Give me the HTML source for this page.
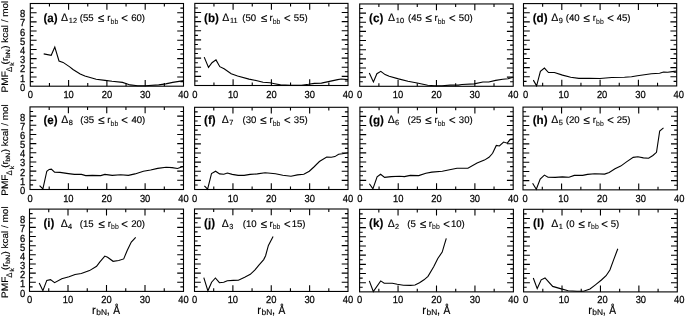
<!DOCTYPE html><html><head><meta charset="utf-8"><style>html,body{margin:0;padding:0;background:#fff;width:685px;height:317px;overflow:hidden}svg{display:block;will-change:transform}text{font-family:"Liberation Sans", sans-serif;text-rendering:geometricPrecision;stroke:#000;stroke-width:0.15px}</style></head><body>
<svg xmlns="http://www.w3.org/2000/svg" width="685" height="317" viewBox="0 0 685 317">
<rect width="685" height="317" fill="#fff"/>
<path d="M49.45 86.2V83.1M49.45 3.5V6.6M68.6 86.2V79.9M68.6 3.5V9.8M87.75 86.2V83.1M87.75 3.5V6.6M106.9 86.2V79.9M106.9 3.5V9.8M126.05 86.2V83.1M126.05 3.5V6.6M145.2 86.2V79.9M145.2 3.5V9.8M164.35 86.2V83.1M164.35 3.5V6.6M30.3 81.61H33.4M183.5 81.61H180.4M30.3 77.01H36.6M183.5 77.01H177.2M30.3 72.42H33.4M183.5 72.42H180.4M30.3 67.82H36.6M183.5 67.82H177.2M30.3 63.23H33.4M183.5 63.23H180.4M30.3 58.63H36.6M183.5 58.63H177.2M30.3 54.04H33.4M183.5 54.04H180.4M30.3 49.44H36.6M183.5 49.44H177.2M30.3 44.85H33.4M183.5 44.85H180.4M30.3 40.26H36.6M183.5 40.26H177.2M30.3 35.66H33.4M183.5 35.66H180.4M30.3 31.07H36.6M183.5 31.07H177.2M30.3 26.47H33.4M183.5 26.47H180.4M30.3 21.88H36.6M183.5 21.88H177.2M30.3 17.28H33.4M183.5 17.28H180.4M30.3 12.69H36.6M183.5 12.69H177.2M30.3 8.09H33.4M183.5 8.09H180.4" stroke="#000" stroke-width="1.1" fill="none"/>
<rect x="30.3" y="3.5" width="153.2" height="82.7" stroke="#000" stroke-width="1.1" fill="none"/>
<polyline points="43.7,53.9 51.2,55.3 54.8,47.1 59,61 63.1,62.4 69.7,66.9 73,69.5 80.2,73.9 84.9,76 96.2,79.2 105,80.4 112,81.3 122.5,82.4 126.6,83.7 130.1,84.9 137.7,85.7 145.3,85.7 158.7,84.9 165.7,83.9 172.7,82.4 183.8,80.6" stroke="#000" stroke-width="1.1" fill="none" stroke-linejoin="miter"/>
<text transform="translate(30.3 98.4) scale(0.91 1)" font-size="10.3" text-anchor="middle" style="stroke-width:0.25px">0</text>
<text transform="translate(68.6 98.4) scale(0.91 1)" font-size="10.3" text-anchor="middle" style="stroke-width:0.25px">10</text>
<text transform="translate(106.9 98.4) scale(0.91 1)" font-size="10.3" text-anchor="middle" style="stroke-width:0.25px">20</text>
<text transform="translate(145.2 98.4) scale(0.91 1)" font-size="10.3" text-anchor="middle" style="stroke-width:0.25px">30</text>
<text transform="translate(183.5 98.4) scale(0.91 1)" font-size="10.3" text-anchor="middle" style="stroke-width:0.25px">40</text>
<text transform="translate(25.3 90.7) scale(0.91 1)" font-size="10.3" text-anchor="end" style="stroke-width:0.25px">0</text>
<text transform="translate(25.3 81.51) scale(0.91 1)" font-size="10.3" text-anchor="end" style="stroke-width:0.25px">1</text>
<text transform="translate(25.3 72.32) scale(0.91 1)" font-size="10.3" text-anchor="end" style="stroke-width:0.25px">2</text>
<text transform="translate(25.3 63.13) scale(0.91 1)" font-size="10.3" text-anchor="end" style="stroke-width:0.25px">3</text>
<text transform="translate(25.3 53.94) scale(0.91 1)" font-size="10.3" text-anchor="end" style="stroke-width:0.25px">4</text>
<text transform="translate(25.3 44.76) scale(0.91 1)" font-size="10.3" text-anchor="end" style="stroke-width:0.25px">5</text>
<text transform="translate(25.3 35.57) scale(0.91 1)" font-size="10.3" text-anchor="end" style="stroke-width:0.25px">6</text>
<text transform="translate(25.3 26.38) scale(0.91 1)" font-size="10.3" text-anchor="end" style="stroke-width:0.25px">7</text>
<text transform="translate(25.3 17.19) scale(0.91 1)" font-size="10.3" text-anchor="end" style="stroke-width:0.25px">8</text>
<path d="M213.95 85.5V82.4M213.95 3.4V6.5M233.1 85.5V79.2M233.1 3.4V9.7M252.25 85.5V82.4M252.25 3.4V6.5M271.4 85.5V79.2M271.4 3.4V9.7M290.55 85.5V82.4M290.55 3.4V6.5M309.7 85.5V79.2M309.7 3.4V9.7M328.85 85.5V82.4M328.85 3.4V6.5M194.8 80.94H197.9M348 80.94H344.9M194.8 76.38H201.1M348 76.38H341.7M194.8 71.82H197.9M348 71.82H344.9M194.8 67.26H201.1M348 67.26H341.7M194.8 62.69H197.9M348 62.69H344.9M194.8 58.13H201.1M348 58.13H341.7M194.8 53.57H197.9M348 53.57H344.9M194.8 49.01H201.1M348 49.01H341.7M194.8 44.45H197.9M348 44.45H344.9M194.8 39.89H201.1M348 39.89H341.7M194.8 35.33H197.9M348 35.33H344.9M194.8 30.77H201.1M348 30.77H341.7M194.8 26.21H197.9M348 26.21H344.9M194.8 21.64H201.1M348 21.64H341.7M194.8 17.08H197.9M348 17.08H344.9M194.8 12.52H201.1M348 12.52H341.7M194.8 7.96H197.9M348 7.96H344.9" stroke="#000" stroke-width="1.1" fill="none"/>
<rect x="194.8" y="3.4" width="153.2" height="82.1" stroke="#000" stroke-width="1.1" fill="none"/>
<polyline points="204.2,57.1 208.5,67.4 212,62.7 216,59.9 219.8,66.7 224.1,68.7 231.2,73.7 237.6,76 249,79.1 256,80.5 263.1,82.2 270,82.8 274.7,83.7 280.5,84.9 289.9,85.2 301.5,85.2 308.5,84.3 314.4,83.4 321.4,83.1 328.4,81.6 337.7,79.6 341.2,79 348,79.6" stroke="#000" stroke-width="1.1" fill="none" stroke-linejoin="miter"/>
<text transform="translate(194.8 98.4) scale(0.91 1)" font-size="10.3" text-anchor="middle" style="stroke-width:0.25px">0</text>
<text transform="translate(233.1 98.4) scale(0.91 1)" font-size="10.3" text-anchor="middle" style="stroke-width:0.25px">10</text>
<text transform="translate(271.4 98.4) scale(0.91 1)" font-size="10.3" text-anchor="middle" style="stroke-width:0.25px">20</text>
<text transform="translate(309.7 98.4) scale(0.91 1)" font-size="10.3" text-anchor="middle" style="stroke-width:0.25px">30</text>
<text transform="translate(348 98.4) scale(0.91 1)" font-size="10.3" text-anchor="middle" style="stroke-width:0.25px">40</text>
<path d="M378.89 86.3V83.2M378.89 3.95V7.05M398.07 86.3V80M398.07 3.95V10.25M417.26 86.3V83.2M417.26 3.95V7.05M436.45 86.3V80M436.45 3.95V10.25M455.64 86.3V83.2M455.64 3.95V7.05M474.83 86.3V80M474.83 3.95V10.25M494.01 86.3V83.2M494.01 3.95V7.05M359.7 81.72H362.8M513.2 81.72H510.1M359.7 77.15H366M513.2 77.15H506.9M359.7 72.58H362.8M513.2 72.58H510.1M359.7 68H366M513.2 68H506.9M359.7 63.42H362.8M513.2 63.42H510.1M359.7 58.85H366M513.2 58.85H506.9M359.7 54.27H362.8M513.2 54.27H510.1M359.7 49.7H366M513.2 49.7H506.9M359.7 45.12H362.8M513.2 45.12H510.1M359.7 40.55H366M513.2 40.55H506.9M359.7 35.98H362.8M513.2 35.98H510.1M359.7 31.4H366M513.2 31.4H506.9M359.7 26.83H362.8M513.2 26.83H510.1M359.7 22.25H366M513.2 22.25H506.9M359.7 17.67H362.8M513.2 17.67H510.1M359.7 13.1H366M513.2 13.1H506.9M359.7 8.53H362.8M513.2 8.53H510.1" stroke="#000" stroke-width="1.1" fill="none"/>
<rect x="359.7" y="3.95" width="153.5" height="82.35" stroke="#000" stroke-width="1.1" fill="none"/>
<polyline points="369.3,73.1 373.4,81.9 376.9,73.7 380.8,71.4 385.1,74.6 389.2,76.3 398.5,78.9 407.9,81.3 417.2,83 427.7,85.2 434.7,85.8 442,85.8 450.2,85.1 458.4,85.1 461.9,84.5 474.1,83.9 482.9,82 488.7,82 495.7,80.4 502.7,79.3 508,78.7 513.2,77.3" stroke="#000" stroke-width="1.1" fill="none" stroke-linejoin="miter"/>
<text transform="translate(359.7 98.4) scale(0.91 1)" font-size="10.3" text-anchor="middle" style="stroke-width:0.25px">0</text>
<text transform="translate(398.07 98.4) scale(0.91 1)" font-size="10.3" text-anchor="middle" style="stroke-width:0.25px">10</text>
<text transform="translate(436.45 98.4) scale(0.91 1)" font-size="10.3" text-anchor="middle" style="stroke-width:0.25px">20</text>
<text transform="translate(474.83 98.4) scale(0.91 1)" font-size="10.3" text-anchor="middle" style="stroke-width:0.25px">30</text>
<text transform="translate(513.2 98.4) scale(0.91 1)" font-size="10.3" text-anchor="middle" style="stroke-width:0.25px">40</text>
<path d="M542.65 85.95V82.85M542.65 3.6V6.7M561.8 85.95V79.65M561.8 3.6V9.9M580.95 85.95V82.85M580.95 3.6V6.7M600.1 85.95V79.65M600.1 3.6V9.9M619.25 85.95V82.85M619.25 3.6V6.7M638.4 85.95V79.65M638.4 3.6V9.9M657.55 85.95V82.85M657.55 3.6V6.7M523.5 81.38H526.6M676.7 81.38H673.6M523.5 76.8H529.8M676.7 76.8H670.4M523.5 72.22H526.6M676.7 72.22H673.6M523.5 67.65H529.8M676.7 67.65H670.4M523.5 63.08H526.6M676.7 63.08H673.6M523.5 58.5H529.8M676.7 58.5H670.4M523.5 53.92H526.6M676.7 53.92H673.6M523.5 49.35H529.8M676.7 49.35H670.4M523.5 44.77H526.6M676.7 44.77H673.6M523.5 40.2H529.8M676.7 40.2H670.4M523.5 35.62H526.6M676.7 35.62H673.6M523.5 31.05H529.8M676.7 31.05H670.4M523.5 26.47H526.6M676.7 26.47H673.6M523.5 21.9H529.8M676.7 21.9H670.4M523.5 17.32H526.6M676.7 17.32H673.6M523.5 12.75H529.8M676.7 12.75H670.4M523.5 8.17H526.6M676.7 8.17H673.6" stroke="#000" stroke-width="1.1" fill="none"/>
<rect x="523.5" y="3.6" width="153.2" height="82.35" stroke="#000" stroke-width="1.1" fill="none"/>
<polyline points="533.3,80.1 536.6,85.8 540.4,71.4 544.4,68.1 548.5,72.5 554.4,72.5 562.5,75.1 570.7,77.2 578.9,78.4 589.4,78.4 600,78.5 611.7,77.5 624.5,77.3 631.5,76.7 637.4,75.7 644.4,74.7 651.4,73.7 659.6,73.3 663.6,72 667.7,72.2 672.4,71.6 676.7,71" stroke="#000" stroke-width="1.1" fill="none" stroke-linejoin="miter"/>
<text transform="translate(525.5 98.4) scale(0.91 1)" font-size="10.3" text-anchor="middle" style="stroke-width:0.25px">0</text>
<text transform="translate(563.8 98.4) scale(0.91 1)" font-size="10.3" text-anchor="middle" style="stroke-width:0.25px">10</text>
<text transform="translate(602.1 98.4) scale(0.91 1)" font-size="10.3" text-anchor="middle" style="stroke-width:0.25px">20</text>
<text transform="translate(640.4 98.4) scale(0.91 1)" font-size="10.3" text-anchor="middle" style="stroke-width:0.25px">30</text>
<text transform="translate(678.7 98.4) scale(0.91 1)" font-size="10.3" text-anchor="middle" style="stroke-width:0.25px">40</text>
<path d="M49.19 189.5V186.4M49.19 106.9V110M68.38 189.5V183.2M68.38 106.9V113.2M87.56 189.5V186.4M87.56 106.9V110M106.75 189.5V183.2M106.75 106.9V113.2M125.94 189.5V186.4M125.94 106.9V110M145.12 189.5V183.2M145.12 106.9V113.2M164.31 189.5V186.4M164.31 106.9V110M30 184.91H33.1M183.5 184.91H180.4M30 180.32H36.3M183.5 180.32H177.2M30 175.73H33.1M183.5 175.73H180.4M30 171.14H36.3M183.5 171.14H177.2M30 166.56H33.1M183.5 166.56H180.4M30 161.97H36.3M183.5 161.97H177.2M30 157.38H33.1M183.5 157.38H180.4M30 152.79H36.3M183.5 152.79H177.2M30 148.2H33.1M183.5 148.2H180.4M30 143.61H36.3M183.5 143.61H177.2M30 139.02H33.1M183.5 139.02H180.4M30 134.43H36.3M183.5 134.43H177.2M30 129.84H33.1M183.5 129.84H180.4M30 125.26H36.3M183.5 125.26H177.2M30 120.67H33.1M183.5 120.67H180.4M30 116.08H36.3M183.5 116.08H177.2M30 111.49H33.1M183.5 111.49H180.4" stroke="#000" stroke-width="1.1" fill="none"/>
<rect x="30" y="106.9" width="153.5" height="82.6" stroke="#000" stroke-width="1.1" fill="none"/>
<polyline points="39.6,185.6 42.9,188.9 46.8,171.2 49.2,169.4 51.3,169.1 54.6,172.1 60,172.4 68.4,173.6 74.4,174.4 81.5,174.4 85.7,175.6 92.3,175.4 100.7,175.6 104.9,174.4 112.2,175.4 120.6,174.8 128.4,175.4 135,173.9 143.4,171.2 150.6,170 157.7,168.4 166.1,167.2 172.1,167.6 177.5,168.5 181.7,167 183.8,166.6" stroke="#000" stroke-width="1.1" fill="none" stroke-linejoin="miter"/>
<text transform="translate(30 201.85) scale(0.91 1)" font-size="10.3" text-anchor="middle" style="stroke-width:0.25px">0</text>
<text transform="translate(68.38 201.85) scale(0.91 1)" font-size="10.3" text-anchor="middle" style="stroke-width:0.25px">10</text>
<text transform="translate(106.75 201.85) scale(0.91 1)" font-size="10.3" text-anchor="middle" style="stroke-width:0.25px">20</text>
<text transform="translate(145.12 201.85) scale(0.91 1)" font-size="10.3" text-anchor="middle" style="stroke-width:0.25px">30</text>
<text transform="translate(183.5 201.85) scale(0.91 1)" font-size="10.3" text-anchor="middle" style="stroke-width:0.25px">40</text>
<text transform="translate(25.3 194) scale(0.91 1)" font-size="10.3" text-anchor="end" style="stroke-width:0.25px">0</text>
<text transform="translate(25.3 184.82) scale(0.91 1)" font-size="10.3" text-anchor="end" style="stroke-width:0.25px">1</text>
<text transform="translate(25.3 175.64) scale(0.91 1)" font-size="10.3" text-anchor="end" style="stroke-width:0.25px">2</text>
<text transform="translate(25.3 166.47) scale(0.91 1)" font-size="10.3" text-anchor="end" style="stroke-width:0.25px">3</text>
<text transform="translate(25.3 157.29) scale(0.91 1)" font-size="10.3" text-anchor="end" style="stroke-width:0.25px">4</text>
<text transform="translate(25.3 148.11) scale(0.91 1)" font-size="10.3" text-anchor="end" style="stroke-width:0.25px">5</text>
<text transform="translate(25.3 138.93) scale(0.91 1)" font-size="10.3" text-anchor="end" style="stroke-width:0.25px">6</text>
<text transform="translate(25.3 129.76) scale(0.91 1)" font-size="10.3" text-anchor="end" style="stroke-width:0.25px">7</text>
<text transform="translate(25.3 120.58) scale(0.91 1)" font-size="10.3" text-anchor="end" style="stroke-width:0.25px">8</text>
<path d="M213.78 189.5V186.4M213.78 107.3V110.4M232.95 189.5V183.2M232.95 107.3V113.6M252.12 189.5V186.4M252.12 107.3V110.4M271.3 189.5V183.2M271.3 107.3V113.6M290.48 189.5V186.4M290.48 107.3V110.4M309.65 189.5V183.2M309.65 107.3V113.6M328.82 189.5V186.4M328.82 107.3V110.4M194.6 184.93H197.7M348 184.93H344.9M194.6 180.37H200.9M348 180.37H341.7M194.6 175.8H197.7M348 175.8H344.9M194.6 171.23H200.9M348 171.23H341.7M194.6 166.67H197.7M348 166.67H344.9M194.6 162.1H200.9M348 162.1H341.7M194.6 157.53H197.7M348 157.53H344.9M194.6 152.97H200.9M348 152.97H341.7M194.6 148.4H197.7M348 148.4H344.9M194.6 143.83H200.9M348 143.83H341.7M194.6 139.27H197.7M348 139.27H344.9M194.6 134.7H200.9M348 134.7H341.7M194.6 130.13H197.7M348 130.13H344.9M194.6 125.57H200.9M348 125.57H341.7M194.6 121H197.7M348 121H344.9M194.6 116.43H200.9M348 116.43H341.7M194.6 111.87H197.7M348 111.87H344.9" stroke="#000" stroke-width="1.1" fill="none"/>
<rect x="194.6" y="107.3" width="153.4" height="82.2" stroke="#000" stroke-width="1.1" fill="none"/>
<polyline points="204.4,185.9 207.6,189.2 211.5,173.6 215.6,171.2 219.6,173.9 223.8,174.2 227.4,173 232.2,174.4 238.2,175.4 244.1,175.4 250.1,174.4 257.3,173.9 265.1,172.7 270.5,173.2 275.5,173.8 282.8,175.2 291,176.2 297.4,174.9 303.8,174.3 309.3,171.2 313.9,167 319.4,161.5 326.7,157 331.3,157.3 334.9,156.6 338.6,154.2 342.3,153.7 348.2,152.7" stroke="#000" stroke-width="1.1" fill="none" stroke-linejoin="miter"/>
<text transform="translate(194.6 201.85) scale(0.91 1)" font-size="10.3" text-anchor="middle" style="stroke-width:0.25px">0</text>
<text transform="translate(232.95 201.85) scale(0.91 1)" font-size="10.3" text-anchor="middle" style="stroke-width:0.25px">10</text>
<text transform="translate(271.3 201.85) scale(0.91 1)" font-size="10.3" text-anchor="middle" style="stroke-width:0.25px">20</text>
<text transform="translate(309.65 201.85) scale(0.91 1)" font-size="10.3" text-anchor="middle" style="stroke-width:0.25px">30</text>
<text transform="translate(348 201.85) scale(0.91 1)" font-size="10.3" text-anchor="middle" style="stroke-width:0.25px">40</text>
<path d="M379.06 189.5V186.4M379.06 107.2V110.3M398.23 189.5V183.2M398.23 107.2V113.5M417.39 189.5V186.4M417.39 107.2V110.3M436.55 189.5V183.2M436.55 107.2V113.5M455.71 189.5V186.4M455.71 107.2V110.3M474.88 189.5V183.2M474.88 107.2V113.5M494.04 189.5V186.4M494.04 107.2V110.3M359.9 184.93H363M513.2 184.93H510.1M359.9 180.36H366.2M513.2 180.36H506.9M359.9 175.78H363M513.2 175.78H510.1M359.9 171.21H366.2M513.2 171.21H506.9M359.9 166.64H363M513.2 166.64H510.1M359.9 162.07H366.2M513.2 162.07H506.9M359.9 157.49H363M513.2 157.49H510.1M359.9 152.92H366.2M513.2 152.92H506.9M359.9 148.35H363M513.2 148.35H510.1M359.9 143.78H366.2M513.2 143.78H506.9M359.9 139.21H363M513.2 139.21H510.1M359.9 134.63H366.2M513.2 134.63H506.9M359.9 130.06H363M513.2 130.06H510.1M359.9 125.49H366.2M513.2 125.49H506.9M359.9 120.92H363M513.2 120.92H510.1M359.9 116.34H366.2M513.2 116.34H506.9M359.9 111.77H363M513.2 111.77H510.1" stroke="#000" stroke-width="1.1" fill="none"/>
<rect x="359.9" y="107.2" width="153.3" height="82.3" stroke="#000" stroke-width="1.1" fill="none"/>
<polyline points="369.4,183.8 372.9,188.9 377.1,176.8 380.6,174.2 384.6,177.4 391.2,176.6 399.6,176.3 404.4,176.6 410.3,175.4 418.7,175.6 425.9,173.2 431.9,172.1 442.3,171.3 449.6,169.8 457,168.3 467.9,168.3 477.1,163 484.4,160.1 489,157.3 492.6,153.3 496.3,145.4 499.4,146 503.6,142 507.3,143.2 510,139.6 513.2,139" stroke="#000" stroke-width="1.1" fill="none" stroke-linejoin="miter"/>
<text transform="translate(359.9 201.85) scale(0.91 1)" font-size="10.3" text-anchor="middle" style="stroke-width:0.25px">0</text>
<text transform="translate(398.23 201.85) scale(0.91 1)" font-size="10.3" text-anchor="middle" style="stroke-width:0.25px">10</text>
<text transform="translate(436.55 201.85) scale(0.91 1)" font-size="10.3" text-anchor="middle" style="stroke-width:0.25px">20</text>
<text transform="translate(474.88 201.85) scale(0.91 1)" font-size="10.3" text-anchor="middle" style="stroke-width:0.25px">30</text>
<text transform="translate(513.2 201.85) scale(0.91 1)" font-size="10.3" text-anchor="middle" style="stroke-width:0.25px">40</text>
<path d="M542.29 189.85V186.75M542.29 107.1V110.2M561.58 189.85V183.55M561.58 107.1V113.4M580.86 189.85V186.75M580.86 107.1V110.2M600.15 189.85V183.55M600.15 107.1V113.4M619.44 189.85V186.75M619.44 107.1V110.2M638.72 189.85V183.55M638.72 107.1V113.4M658.01 189.85V186.75M658.01 107.1V110.2M523 185.25H526.1M677.3 185.25H674.2M523 180.66H529.3M677.3 180.66H671M523 176.06H526.1M677.3 176.06H674.2M523 171.46H529.3M677.3 171.46H671M523 166.86H526.1M677.3 166.86H674.2M523 162.27H529.3M677.3 162.27H671M523 157.67H526.1M677.3 157.67H674.2M523 153.07H529.3M677.3 153.07H671M523 148.47H526.1M677.3 148.47H674.2M523 143.88H529.3M677.3 143.88H671M523 139.28H526.1M677.3 139.28H674.2M523 134.68H529.3M677.3 134.68H671M523 130.09H526.1M677.3 130.09H674.2M523 125.49H529.3M677.3 125.49H671M523 120.89H526.1M677.3 120.89H674.2M523 116.29H529.3M677.3 116.29H671M523 111.7H526.1M677.3 111.7H674.2" stroke="#000" stroke-width="1.1" fill="none"/>
<rect x="523" y="107.1" width="154.3" height="82.75" stroke="#000" stroke-width="1.1" fill="none"/>
<polyline points="532.6,183.2 536.3,189.2 540.2,179 544.4,175.1 548,177.2 555.2,177.4 562.4,176.9 569,177.3 574.3,175.4 582.7,175.4 587.5,174.4 594.7,173.8 604.6,174.1 609.2,172.5 615,168.8 620.7,166.1 626.5,161.9 633.2,157.4 637.9,156.8 643.4,157.9 648.6,158.3 652.9,155.5 656.5,152.3 659.7,131 663.5,127.8" stroke="#000" stroke-width="1.1" fill="none" stroke-linejoin="miter"/>
<text transform="translate(525 201.85) scale(0.91 1)" font-size="10.3" text-anchor="middle" style="stroke-width:0.25px">0</text>
<text transform="translate(563.58 201.85) scale(0.91 1)" font-size="10.3" text-anchor="middle" style="stroke-width:0.25px">10</text>
<text transform="translate(602.15 201.85) scale(0.91 1)" font-size="10.3" text-anchor="middle" style="stroke-width:0.25px">20</text>
<text transform="translate(640.72 201.85) scale(0.91 1)" font-size="10.3" text-anchor="middle" style="stroke-width:0.25px">30</text>
<text transform="translate(679.3 201.85) scale(0.91 1)" font-size="10.3" text-anchor="middle" style="stroke-width:0.25px">40</text>
<path d="M48.75 291.4V288.3M48.75 209.1V212.2M68 291.4V285.1M68 209.1V215.4M87.25 291.4V288.3M87.25 209.1V212.2M106.5 291.4V285.1M106.5 209.1V215.4M125.75 291.4V288.3M125.75 209.1V212.2M145 291.4V285.1M145 209.1V215.4M164.25 291.4V288.3M164.25 209.1V212.2M29.5 286.83H32.6M183.5 286.83H180.4M29.5 282.26H35.8M183.5 282.26H177.2M29.5 277.68H32.6M183.5 277.68H180.4M29.5 273.11H35.8M183.5 273.11H177.2M29.5 268.54H32.6M183.5 268.54H180.4M29.5 263.97H35.8M183.5 263.97H177.2M29.5 259.39H32.6M183.5 259.39H180.4M29.5 254.82H35.8M183.5 254.82H177.2M29.5 250.25H32.6M183.5 250.25H180.4M29.5 245.68H35.8M183.5 245.68H177.2M29.5 241.11H32.6M183.5 241.11H180.4M29.5 236.53H35.8M183.5 236.53H177.2M29.5 231.96H32.6M183.5 231.96H180.4M29.5 227.39H35.8M183.5 227.39H177.2M29.5 222.82H32.6M183.5 222.82H180.4M29.5 218.24H35.8M183.5 218.24H177.2M29.5 213.67H32.6M183.5 213.67H180.4" stroke="#000" stroke-width="1.1" fill="none"/>
<rect x="29.5" y="209.1" width="154" height="82.3" stroke="#000" stroke-width="1.1" fill="none"/>
<polyline points="39.2,282.9 42.9,290.7 46.8,280.4 50.5,279.6 54.6,282.7 61.8,278.8 69,276.8 75.1,274.5 81.3,273.5 89.5,270.6 96.6,266.3 99.7,262.1 104.8,256.1 107.6,257.3 113.1,261.3 118.7,260.5 123.7,258.9 127.3,250.2 131.3,242 135.7,237.3" stroke="#000" stroke-width="1.1" fill="none" stroke-linejoin="miter"/>
<text transform="translate(29.5 302.9) scale(0.91 1)" font-size="10.3" text-anchor="middle" style="stroke-width:0.25px">0</text>
<text transform="translate(68 302.9) scale(0.91 1)" font-size="10.3" text-anchor="middle" style="stroke-width:0.25px">10</text>
<text transform="translate(106.5 302.9) scale(0.91 1)" font-size="10.3" text-anchor="middle" style="stroke-width:0.25px">20</text>
<text transform="translate(145 302.9) scale(0.91 1)" font-size="10.3" text-anchor="middle" style="stroke-width:0.25px">30</text>
<text transform="translate(183.5 302.9) scale(0.91 1)" font-size="10.3" text-anchor="middle" style="stroke-width:0.25px">40</text>
<text transform="translate(25.3 296.5) scale(0.91 1)" font-size="10.3" text-anchor="end" style="stroke-width:0.25px">0</text>
<text transform="translate(25.3 287.36) scale(0.91 1)" font-size="10.3" text-anchor="end" style="stroke-width:0.25px">1</text>
<text transform="translate(25.3 278.21) scale(0.91 1)" font-size="10.3" text-anchor="end" style="stroke-width:0.25px">2</text>
<text transform="translate(25.3 269.07) scale(0.91 1)" font-size="10.3" text-anchor="end" style="stroke-width:0.25px">3</text>
<text transform="translate(25.3 259.92) scale(0.91 1)" font-size="10.3" text-anchor="end" style="stroke-width:0.25px">4</text>
<text transform="translate(25.3 250.78) scale(0.91 1)" font-size="10.3" text-anchor="end" style="stroke-width:0.25px">5</text>
<text transform="translate(25.3 241.63) scale(0.91 1)" font-size="10.3" text-anchor="end" style="stroke-width:0.25px">6</text>
<text transform="translate(25.3 232.49) scale(0.91 1)" font-size="10.3" text-anchor="end" style="stroke-width:0.25px">7</text>
<text transform="translate(25.3 223.34) scale(0.91 1)" font-size="10.3" text-anchor="end" style="stroke-width:0.25px">8</text>
<path d="M213.69 291.45V288.35M213.69 209V212.1M232.88 291.45V285.15M232.88 209V215.3M252.06 291.45V288.35M252.06 209V212.1M271.25 291.45V285.15M271.25 209V215.3M290.44 291.45V288.35M290.44 209V212.1M309.62 291.45V285.15M309.62 209V215.3M328.81 291.45V288.35M328.81 209V212.1M194.5 286.87H197.6M348 286.87H344.9M194.5 282.29H200.8M348 282.29H341.7M194.5 277.71H197.6M348 277.71H344.9M194.5 273.13H200.8M348 273.13H341.7M194.5 268.55H197.6M348 268.55H344.9M194.5 263.97H200.8M348 263.97H341.7M194.5 259.39H197.6M348 259.39H344.9M194.5 254.81H200.8M348 254.81H341.7M194.5 250.22H197.6M348 250.22H344.9M194.5 245.64H200.8M348 245.64H341.7M194.5 241.06H197.6M348 241.06H344.9M194.5 236.48H200.8M348 236.48H341.7M194.5 231.9H197.6M348 231.9H344.9M194.5 227.32H200.8M348 227.32H341.7M194.5 222.74H197.6M348 222.74H344.9M194.5 218.16H200.8M348 218.16H341.7M194.5 213.58H197.6M348 213.58H344.9" stroke="#000" stroke-width="1.1" fill="none"/>
<rect x="194.5" y="209" width="153.5" height="82.45" stroke="#000" stroke-width="1.1" fill="none"/>
<polyline points="203.8,277.6 207.9,290.8 211.6,282.2 215.4,278 219.4,282.7 223.7,282.2 227.3,280.7 233.3,280.4 238.4,280.2 244.7,277.2 250.3,274.3 255,269.9 258.9,265.1 263.7,259.6 265.6,255.7 268.4,245.4 273.1,236.4" stroke="#000" stroke-width="1.1" fill="none" stroke-linejoin="miter"/>
<text transform="translate(194.5 302.9) scale(0.91 1)" font-size="10.3" text-anchor="middle" style="stroke-width:0.25px">0</text>
<text transform="translate(232.88 302.9) scale(0.91 1)" font-size="10.3" text-anchor="middle" style="stroke-width:0.25px">10</text>
<text transform="translate(271.25 302.9) scale(0.91 1)" font-size="10.3" text-anchor="middle" style="stroke-width:0.25px">20</text>
<text transform="translate(309.62 302.9) scale(0.91 1)" font-size="10.3" text-anchor="middle" style="stroke-width:0.25px">30</text>
<text transform="translate(348 302.9) scale(0.91 1)" font-size="10.3" text-anchor="middle" style="stroke-width:0.25px">40</text>
<path d="M378.83 291.85V288.75M378.83 209.3V212.4M398.05 291.85V285.55M398.05 209.3V215.6M417.27 291.85V288.75M417.27 209.3V212.4M436.5 291.85V285.55M436.5 209.3V215.6M455.73 291.85V288.75M455.73 209.3V212.4M474.95 291.85V285.55M474.95 209.3V215.6M494.17 291.85V288.75M494.17 209.3V212.4M359.6 287.26H362.7M513.4 287.26H510.3M359.6 282.68H365.9M513.4 282.68H507.1M359.6 278.09H362.7M513.4 278.09H510.3M359.6 273.51H365.9M513.4 273.51H507.1M359.6 268.92H362.7M513.4 268.92H510.3M359.6 264.33H365.9M513.4 264.33H507.1M359.6 259.75H362.7M513.4 259.75H510.3M359.6 255.16H365.9M513.4 255.16H507.1M359.6 250.58H362.7M513.4 250.58H510.3M359.6 245.99H365.9M513.4 245.99H507.1M359.6 241.4H362.7M513.4 241.4H510.3M359.6 236.82H365.9M513.4 236.82H507.1M359.6 232.23H362.7M513.4 232.23H510.3M359.6 227.64H365.9M513.4 227.64H507.1M359.6 223.06H362.7M513.4 223.06H510.3M359.6 218.47H365.9M513.4 218.47H507.1M359.6 213.89H362.7M513.4 213.89H510.3" stroke="#000" stroke-width="1.1" fill="none"/>
<rect x="359.6" y="209.3" width="153.8" height="82.55" stroke="#000" stroke-width="1.1" fill="none"/>
<polyline points="369.3,280.9 373.3,291.5 380.7,280.9 384.2,283.2 392.3,283.2 397.3,284.2 403.4,285.2 410.5,285.4 415,285 419.5,282.8 424,279.8 428,276.3 433.7,266.8 437.8,258.5 442.2,252.1 444.4,244.7 446.3,238.4" stroke="#000" stroke-width="1.1" fill="none" stroke-linejoin="miter"/>
<text transform="translate(359.6 302.9) scale(0.91 1)" font-size="10.3" text-anchor="middle" style="stroke-width:0.25px">0</text>
<text transform="translate(398.05 302.9) scale(0.91 1)" font-size="10.3" text-anchor="middle" style="stroke-width:0.25px">10</text>
<text transform="translate(436.5 302.9) scale(0.91 1)" font-size="10.3" text-anchor="middle" style="stroke-width:0.25px">20</text>
<text transform="translate(474.95 302.9) scale(0.91 1)" font-size="10.3" text-anchor="middle" style="stroke-width:0.25px">30</text>
<text transform="translate(513.4 302.9) scale(0.91 1)" font-size="10.3" text-anchor="middle" style="stroke-width:0.25px">40</text>
<path d="M542.81 291.9V288.8M542.81 209.3V212.4M562.02 291.9V285.6M562.02 209.3V215.6M581.24 291.9V288.8M581.24 209.3V212.4M600.45 291.9V285.6M600.45 209.3V215.6M619.66 291.9V288.8M619.66 209.3V212.4M638.88 291.9V285.6M638.88 209.3V215.6M658.09 291.9V288.8M658.09 209.3V212.4M523.6 287.31H526.7M677.3 287.31H674.2M523.6 282.72H529.9M677.3 282.72H671M523.6 278.13H526.7M677.3 278.13H674.2M523.6 273.54H529.9M677.3 273.54H671M523.6 268.96H526.7M677.3 268.96H674.2M523.6 264.37H529.9M677.3 264.37H671M523.6 259.78H526.7M677.3 259.78H674.2M523.6 255.19H529.9M677.3 255.19H671M523.6 250.6H526.7M677.3 250.6H674.2M523.6 246.01H529.9M677.3 246.01H671M523.6 241.42H526.7M677.3 241.42H674.2M523.6 236.83H529.9M677.3 236.83H671M523.6 232.24H526.7M677.3 232.24H674.2M523.6 227.66H529.9M677.3 227.66H671M523.6 223.07H526.7M677.3 223.07H674.2M523.6 218.48H529.9M677.3 218.48H671M523.6 213.89H526.7M677.3 213.89H674.2" stroke="#000" stroke-width="1.1" fill="none"/>
<rect x="523.6" y="209.3" width="153.7" height="82.6" stroke="#000" stroke-width="1.1" fill="none"/>
<polyline points="533.3,278 537.2,288.6 541.2,279.8 545,278 552.7,286.4 560.4,288.6 568.2,290.8 577,291.2 583.6,291.2 590,289 595.7,284.6 601.4,280 606.1,275.7 609.9,270 613.7,259.6 617.8,248.8" stroke="#000" stroke-width="1.1" fill="none" stroke-linejoin="miter"/>
<text transform="translate(525.6 302.9) scale(0.91 1)" font-size="10.3" text-anchor="middle" style="stroke-width:0.25px">0</text>
<text transform="translate(564.02 302.9) scale(0.91 1)" font-size="10.3" text-anchor="middle" style="stroke-width:0.25px">10</text>
<text transform="translate(602.45 302.9) scale(0.91 1)" font-size="10.3" text-anchor="middle" style="stroke-width:0.25px">20</text>
<text transform="translate(640.88 302.9) scale(0.91 1)" font-size="10.3" text-anchor="middle" style="stroke-width:0.25px">30</text>
<text transform="translate(679.3 302.9) scale(0.91 1)" font-size="10.3" text-anchor="middle" style="stroke-width:0.25px">40</text>
<text transform="translate(43.4 21.5) scale(0.97 1)" font-size="12" font-weight="bold">(a)</text>
<text transform="translate(61.1 20.9) scale(0.97 1)" font-size="10.9">&#916;</text>
<text x="68.8" y="22.9" font-size="7.4">12</text>
<text x="79.8" y="20.9" font-size="9.6">(55</text>
<text x="98.1" y="21.8" font-size="11.5">&#8804;</text>
<text x="107.2" y="20.9" font-size="9.6">r</text>
<text transform="translate(110.6 23.5) scale(0.93 1)" font-size="7.4" style="stroke-width:0.05px">bb</text>
<text transform="translate(121.3 21.9) scale(0.97 1)" font-size="11.7">&lt;</text>
<text x="145" y="20.9" font-size="9.6" text-anchor="end">60)</text>
<text transform="translate(204.1 21.5) scale(0.97 1)" font-size="12" font-weight="bold">(b)</text>
<text transform="translate(222.2 20.9) scale(0.97 1)" font-size="10.9">&#916;</text>
<text x="229.9" y="22.9" font-size="7.4">11</text>
<text x="242.2" y="20.9" font-size="9.6">(50</text>
<text x="260.9" y="21.8" font-size="11.5">&#8804;</text>
<text x="269.4" y="20.9" font-size="9.6">r</text>
<text transform="translate(272.8 23.5) scale(0.93 1)" font-size="7.4" style="stroke-width:0.05px">bb</text>
<text transform="translate(284 21.9) scale(0.97 1)" font-size="11.7">&lt;</text>
<text x="307.7" y="20.9" font-size="9.6" text-anchor="end">55)</text>
<text transform="translate(369.1 21.5) scale(0.97 1)" font-size="12" font-weight="bold">(c)</text>
<text transform="translate(388.1 20.9) scale(0.97 1)" font-size="10.9">&#916;</text>
<text x="395.8" y="22.9" font-size="7.4">10</text>
<text x="408" y="20.9" font-size="9.6">(45</text>
<text x="425.4" y="21.8" font-size="11.5">&#8804;</text>
<text x="434.4" y="20.9" font-size="9.6">r</text>
<text transform="translate(437.8 23.5) scale(0.93 1)" font-size="7.4" style="stroke-width:0.05px">bb</text>
<text transform="translate(449 21.9) scale(0.97 1)" font-size="11.7">&lt;</text>
<text x="472.7" y="20.9" font-size="9.6" text-anchor="end">50)</text>
<text transform="translate(532.7 21.5) scale(0.97 1)" font-size="12" font-weight="bold">(d)</text>
<text transform="translate(551.3 20.9) scale(0.97 1)" font-size="10.9">&#916;</text>
<text x="558.7" y="22.9" font-size="7.4">9</text>
<text x="565.8" y="20.9" font-size="9.6">(40</text>
<text x="583.5" y="21.8" font-size="11.5">&#8804;</text>
<text x="592.7" y="20.9" font-size="9.6">r</text>
<text transform="translate(596.1 23.5) scale(0.93 1)" font-size="7.4" style="stroke-width:0.05px">bb</text>
<text transform="translate(607.3 21.9) scale(0.97 1)" font-size="11.7">&lt;</text>
<text x="630.5" y="20.9" font-size="9.6" text-anchor="end">45)</text>
<text transform="translate(43.4 123.5) scale(0.97 1)" font-size="12" font-weight="bold">(e)</text>
<text transform="translate(61.3 122.9) scale(0.97 1)" font-size="10.9">&#916;</text>
<text x="68.7" y="124.9" font-size="7.4">8</text>
<text x="80.3" y="122.9" font-size="9.6">(35</text>
<text x="98.2" y="123.8" font-size="11.5">&#8804;</text>
<text x="107.2" y="122.9" font-size="9.6">r</text>
<text transform="translate(110.6 125.5) scale(0.93 1)" font-size="7.4" style="stroke-width:0.05px">bb</text>
<text transform="translate(121.3 123.9) scale(0.97 1)" font-size="11.7">&lt;</text>
<text x="145.3" y="122.9" font-size="9.6" text-anchor="end">40)</text>
<text transform="translate(204.1 123.5) scale(0.97 1)" font-size="12" font-weight="bold">(f)</text>
<text transform="translate(221.8 122.9) scale(0.97 1)" font-size="10.9">&#916;</text>
<text x="229.2" y="124.9" font-size="7.4">7</text>
<text x="242.6" y="122.9" font-size="9.6">(30</text>
<text x="260.2" y="123.8" font-size="11.5">&#8804;</text>
<text x="269.4" y="122.9" font-size="9.6">r</text>
<text transform="translate(272.8 125.5) scale(0.93 1)" font-size="7.4" style="stroke-width:0.05px">bb</text>
<text transform="translate(284 123.9) scale(0.97 1)" font-size="11.7">&lt;</text>
<text x="307.7" y="122.9" font-size="9.6" text-anchor="end">35)</text>
<text transform="translate(369.1 123.5) scale(0.97 1)" font-size="12" font-weight="bold">(g)</text>
<text transform="translate(387.7 122.9) scale(0.97 1)" font-size="10.9">&#916;</text>
<text x="395.1" y="124.9" font-size="7.4">6</text>
<text x="407.6" y="122.9" font-size="9.6">(25</text>
<text x="425.2" y="123.8" font-size="11.5">&#8804;</text>
<text x="434.4" y="122.9" font-size="9.6">r</text>
<text transform="translate(437.8 125.5) scale(0.93 1)" font-size="7.4" style="stroke-width:0.05px">bb</text>
<text transform="translate(449 123.9) scale(0.97 1)" font-size="11.7">&lt;</text>
<text x="472.7" y="122.9" font-size="9.6" text-anchor="end">30)</text>
<text transform="translate(532.7 123.5) scale(0.97 1)" font-size="12" font-weight="bold">(h)</text>
<text transform="translate(551.3 122.9) scale(0.97 1)" font-size="10.9">&#916;</text>
<text x="558.7" y="124.9" font-size="7.4">5</text>
<text x="565.8" y="122.9" font-size="9.6">(20</text>
<text x="583.5" y="123.8" font-size="11.5">&#8804;</text>
<text x="592.7" y="122.9" font-size="9.6">r</text>
<text transform="translate(596.1 125.5) scale(0.93 1)" font-size="7.4" style="stroke-width:0.05px">bb</text>
<text transform="translate(607.3 123.9) scale(0.97 1)" font-size="11.7">&lt;</text>
<text x="630.5" y="122.9" font-size="9.6" text-anchor="end">25)</text>
<text transform="translate(43.4 227.2) scale(0.97 1)" font-size="12" font-weight="bold">(i)</text>
<text transform="translate(60.7 226.6) scale(0.97 1)" font-size="10.9">&#916;</text>
<text x="68.1" y="228.6" font-size="7.4">4</text>
<text x="79.8" y="226.6" font-size="9.6">(15</text>
<text x="98.5" y="227.5" font-size="11.5">&#8804;</text>
<text x="107.7" y="226.6" font-size="9.6">r</text>
<text transform="translate(111.1 229.2) scale(0.93 1)" font-size="7.4" style="stroke-width:0.05px">bb</text>
<text transform="translate(121.3 227.6) scale(0.97 1)" font-size="11.7">&lt;</text>
<text x="145" y="226.6" font-size="9.6" text-anchor="end">20)</text>
<text transform="translate(204.1 227.2) scale(0.97 1)" font-size="12" font-weight="bold">(j)</text>
<text transform="translate(221.8 226.6) scale(0.97 1)" font-size="10.9">&#916;</text>
<text x="229.2" y="228.6" font-size="7.4">3</text>
<text x="242.8" y="226.6" font-size="9.6">(10</text>
<text x="260.7" y="227.5" font-size="11.5">&#8804;</text>
<text x="269.4" y="226.6" font-size="9.6">r</text>
<text transform="translate(272.8 229.2) scale(0.93 1)" font-size="7.4" style="stroke-width:0.05px">bb</text>
<text transform="translate(284 227.6) scale(0.97 1)" font-size="11.7">&lt;</text>
<text x="305.5" y="226.6" font-size="9.6" text-anchor="end">15)</text>
<text transform="translate(369.1 227.2) scale(0.97 1)" font-size="12" font-weight="bold">(k)</text>
<text transform="translate(387.7 226.6) scale(0.97 1)" font-size="10.9">&#916;</text>
<text x="395.1" y="228.6" font-size="7.4">2</text>
<text x="407.2" y="226.6" font-size="9.6">(5</text>
<text x="420" y="227.5" font-size="11.5">&#8804;</text>
<text x="428.7" y="226.6" font-size="9.6">r</text>
<text transform="translate(432.1 229.2) scale(0.93 1)" font-size="7.4" style="stroke-width:0.05px">bb</text>
<text transform="translate(443.3 227.6) scale(0.97 1)" font-size="11.7">&lt;</text>
<text x="464.8" y="226.6" font-size="9.6" text-anchor="end">10)</text>
<text transform="translate(533.1 227.2) scale(0.97 1)" font-size="12" font-weight="bold">(l)</text>
<text transform="translate(551.3 226.6) scale(0.97 1)" font-size="10.9">&#916;</text>
<text x="558.7" y="228.6" font-size="7.4">1</text>
<text x="566.1" y="226.6" font-size="9.6">(0</text>
<text x="578.5" y="227.5" font-size="11.5">&#8804;</text>
<text x="587.7" y="226.6" font-size="9.6">r</text>
<text transform="translate(591.1 229.2) scale(0.93 1)" font-size="7.4" style="stroke-width:0.05px">bb</text>
<text transform="translate(601.3 227.6) scale(0.97 1)" font-size="11.7">&lt;</text>
<text x="619.3" y="226.6" font-size="9.6" text-anchor="end">5)</text>
<text transform="translate(7.8 92.4) rotate(-90) scale(1.08 1)" font-size="9.4">PMF</text>
<text transform="translate(11.5 72) rotate(-90) scale(0.95 1)" font-size="8.3">&#916;</text>
<text transform="translate(13.6 65.8) rotate(-90) scale(1.15 1)" font-size="5.8">k</text>
<text transform="translate(7.8 64.4) rotate(-90) scale(1.08 1)" font-size="9.3">(r</text>
<text transform="translate(9.8 58) rotate(-90) scale(1.08 1)" font-size="6.3">bN</text>
<text transform="translate(7.8 48.85) rotate(-90) scale(1.07 1)" font-size="9.3">) kcal / mol</text>
<text transform="translate(7.8 195.85) rotate(-90) scale(1.08 1)" font-size="9.4">PMF</text>
<text transform="translate(11.5 175.45) rotate(-90) scale(0.95 1)" font-size="8.3">&#916;</text>
<text transform="translate(13.6 169.25) rotate(-90) scale(1.15 1)" font-size="5.8">k</text>
<text transform="translate(7.8 167.85) rotate(-90) scale(1.08 1)" font-size="9.3">(r</text>
<text transform="translate(9.8 161.45) rotate(-90) scale(1.08 1)" font-size="6.3">bN</text>
<text transform="translate(7.8 152.3) rotate(-90) scale(1.07 1)" font-size="9.3">) kcal / mol</text>
<text transform="translate(7.8 298.05) rotate(-90) scale(1.08 1)" font-size="9.4">PMF</text>
<text transform="translate(11.5 277.65) rotate(-90) scale(0.95 1)" font-size="8.3">&#916;</text>
<text transform="translate(13.6 271.45) rotate(-90) scale(1.15 1)" font-size="5.8">k</text>
<text transform="translate(7.8 270.05) rotate(-90) scale(1.08 1)" font-size="9.3">(r</text>
<text transform="translate(9.8 263.65) rotate(-90) scale(1.08 1)" font-size="6.3">bN</text>
<text transform="translate(7.8 254.5) rotate(-90) scale(1.07 1)" font-size="9.3">) kcal / mol</text>
<text transform="translate(92.06 313.6) scale(1 1.05)" font-size="11.2">r</text>
<text transform="translate(96.26 315.3) scale(1 1)" font-size="8.4">bN</text>
<text transform="translate(106.71 313.6) scale(1 1)" font-size="11">,</text>
<text transform="translate(113.2 313.6) scale(1 1.16)" font-size="10.2">&#197;</text>
<text transform="translate(257.36 313.6) scale(1 1.05)" font-size="11.2">r</text>
<text transform="translate(261.56 315.3) scale(1 1)" font-size="8.4">bN</text>
<text transform="translate(272.01 313.6) scale(1 1)" font-size="11">,</text>
<text transform="translate(278.5 313.6) scale(1 1.16)" font-size="10.2">&#197;</text>
<text transform="translate(422.36 313.6) scale(1 1.05)" font-size="11.2">r</text>
<text transform="translate(426.56 315.3) scale(1 1)" font-size="8.4">bN</text>
<text transform="translate(437.01 313.6) scale(1 1)" font-size="11">,</text>
<text transform="translate(443.5 313.6) scale(1 1.16)" font-size="10.2">&#197;</text>
<text transform="translate(588.16 313.6) scale(1 1.05)" font-size="11.2">r</text>
<text transform="translate(592.36 315.3) scale(1 1)" font-size="8.4">bN</text>
<text transform="translate(602.81 313.6) scale(1 1)" font-size="11">,</text>
<text transform="translate(609.3 313.6) scale(1 1.16)" font-size="10.2">&#197;</text>
</svg></body></html>
